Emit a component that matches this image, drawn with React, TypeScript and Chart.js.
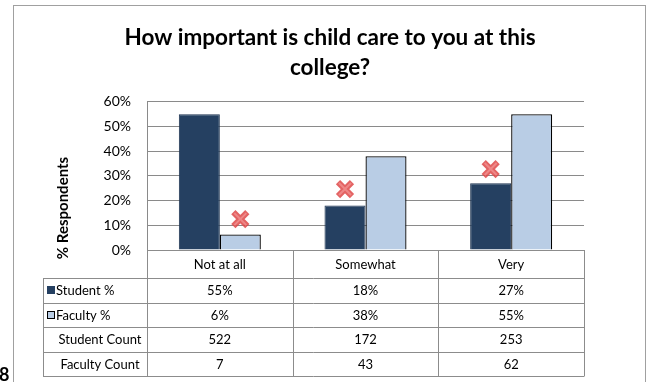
import React, { useEffect, useRef } from "react";
import { Chart, registerables } from "chart.js";
Chart.register(...registerables);

const FONT = "Lato, 'Open Sans', sans-serif";

const titleLines = ["How important is child care to you at this", "college?"];
const yAxisTitle = "% Respondents";
const categories = ["Not at all", "Somewhat", "Very"];
const seriesNames = ["Student %", "Faculty %"];
const studentPct = [55, 18, 27];
const facultyPct = [6.3, 38, 55];
const studentPctLabels = ["55%", "18%", "27%"];
const facultyPctLabels = ["6%", "38%", "55%"];
const countNames = ["Student Count", "Faculty Count"];
const studentCount = ["522", "172", "253"];
const facultyCount = ["7", "43", "62"];
const yTicks = [0, 10, 20, 30, 40, 50, 60];
const markerSeries = [1, 0, 0];
const markerValues = [12.5, 24.7, 32.8];
const sideGlyph = "8";

const DARK = "#254061";
const LIGHT = "#B9CDE5";
const GRID = "#8a8a8a";
const TABLE_LINE = "#8c8c8c";

const overlayPlugin = {
  id: "overlay",
  afterDatasetsDraw(chart: any) {
    const { ctx, scales } = chart;
    const y = scales.y;
    ctx.save();
    for (let i = 0; i < markerValues.length; i++) {
      const meta = chart.getDatasetMeta(markerSeries[i]);
      const el = meta.data[i];
      const cx = el.x;
      const cy = y.getPixelForValue(markerValues[i]);
      const r = 7;
      ctx.lineCap = "butt";
      ctx.strokeStyle = "rgba(222,72,72,0.85)";
      ctx.lineWidth = 6;
      ctx.beginPath();
      ctx.moveTo(cx - r, cy - r);
      ctx.lineTo(cx + r, cy + r);
      ctx.moveTo(cx + r, cy - r);
      ctx.lineTo(cx - r, cy + r);
      ctx.stroke();
      ctx.strokeStyle = "rgba(240,140,140,0.9)";
      ctx.lineWidth = 2;
      ctx.beginPath();
      ctx.moveTo(cx - r + 1, cy - r + 1);
      ctx.lineTo(cx + r - 1, cy + r - 1);
      ctx.moveTo(cx + r - 1, cy - r + 1);
      ctx.lineTo(cx - r + 1, cy + r - 1);
      ctx.stroke();
    }
    ctx.restore();
  },
  afterDraw(chart: any) {
    const { ctx, chartArea: ca, scales } = chart;
    const x = scales.x;
    ctx.save();
    // outer frame
    ctx.strokeStyle = "#a0a0a0";
    ctx.lineWidth = 1;
    ctx.strokeRect(13.5, 5.5, 632, 420);

    // y axis title
    ctx.save();
    ctx.translate(63, ca.bottom - 42);
    ctx.rotate(-Math.PI / 2);
    ctx.font = `bold 15px ${FONT}`;
    ctx.fillStyle = "#000";
    ctx.textAlign = "center";
    ctx.textBaseline = "middle";
    ctx.fillText(yAxisTitle, 0, 0);
    ctx.restore();

    // table
    const w = (ca.right - ca.left) / categories.length;
    const rows = [ca.bottom, ca.bottom + 28, ca.bottom + 52.5, ca.bottom + 77, ca.bottom + 101.5, ca.bottom + 126];
    const leftCol = 43;
    const crisp = (v: number) => Math.round(v) + 0.5;
    ctx.strokeStyle = TABLE_LINE;
    ctx.lineWidth = 1;
    ctx.beginPath();
    for (let i = 0; i <= categories.length; i++) {
      const xx = crisp(i === categories.length ? ca.right : x.getPixelForValue(i) - w / 2);
      ctx.moveTo(xx, rows[0]);
      ctx.lineTo(xx, rows[5]);
    }
    ctx.moveTo(crisp(leftCol), rows[1]);
    ctx.lineTo(crisp(leftCol), rows[5]);
    ctx.moveTo(ca.left, crisp(rows[0]));
    ctx.lineTo(ca.right, crisp(rows[0]));
    for (let r = 1; r < rows.length; r++) {
      ctx.moveTo(leftCol, crisp(rows[r]));
      ctx.lineTo(ca.right + 0.5, crisp(rows[r]));
    }
    ctx.stroke();

    ctx.fillStyle = "#000";
    ctx.font = `13px ${FONT}`;
    ctx.textBaseline = "middle";
    ctx.textAlign = "center";
    const rowMid = (r: number) => (rows[r] + rows[r + 1]) / 2 + 1;
    const dataRows = [categories, studentPctLabels, facultyPctLabels, studentCount, facultyCount];
    dataRows.forEach((arr, r) => {
      arr.forEach((txt, i) => {
        ctx.fillText(String(txt), x.getPixelForValue(i), rowMid(r));
      });
    });
    ctx.textAlign = "left";
    const legendColors = [DARK, LIGHT];
    seriesNames.forEach((name, s) => {
      const my = rowMid(s + 1);
      ctx.fillStyle = legendColors[s];
      ctx.fillRect(47, Math.round(my - 5), 8, 8);
      if (s === 1) {
        ctx.strokeStyle = "#000";
        ctx.strokeRect(47.5, Math.round(my - 5) + 0.5, 7, 7);
      }
      ctx.fillStyle = "#000";
      ctx.fillText(name, 56, my);
    });
    ctx.textAlign = "center";
    countNames.forEach((name, s) => {
      ctx.fillText(name, 100, rowMid(s + 3));
    });

    ctx.font = `bold 18px ${FONT}`;
    ctx.textAlign = "left";
    ctx.textBaseline = "alphabetic";
    ctx.fillText(sideGlyph, -1, 381);
    ctx.restore();
  },
};

export default function App() {
  const ref = useRef<HTMLCanvasElement>(null);
  useEffect(() => {
    document.body.style.margin = "0";
    const chart = new Chart(ref.current as HTMLCanvasElement, {
      type: "bar",
      data: {
        labels: categories,
        datasets: [
          {
            label: seriesNames[0],
            data: studentPct,
            backgroundColor: DARK,
            borderColor: "#1d3350",
            borderWidth: 1,
            categoryPercentage: 0.563,
            barPercentage: 1,
          },
          {
            label: seriesNames[1],
            data: facultyPct,
            backgroundColor: LIGHT,
            borderColor: "#000",
            borderWidth: 1.3,
            categoryPercentage: 0.563,
            barPercentage: 1,
          },
        ],
      },
      options: {
        animation: false,
        responsive: false,
        layout: { padding: { left: 76, right: 68, top: 0, bottom: 132 } },
        plugins: {
          legend: { display: false },
          tooltip: { enabled: false },
          title: {
            display: true,
            text: titleLines,
            color: "#000",
            font: { size: 22.5, weight: "bold", family: FONT, lineHeight: 1.33 },
            padding: { top: 23, bottom: 19 },
          },
        },
        scales: {
          x: { display: false },
          y: {
            min: 0,
            max: 60,
            afterFit: (s: any) => {
              s.width = 71;
            },
            afterBuildTicks: (s: any) => {
              s.ticks = yTicks.map((v) => ({ value: v }));
            },
            grid: { color: GRID, drawTicks: false, lineWidth: 1 },
            border: { display: true, color: GRID, width: 1 },
            ticks: {
              padding: 16,
              color: "#000",
              font: { size: 14, family: FONT },
              callback: (v: any) => `${v}%`,
            },
          },
        },
      },
      plugins: [overlayPlugin],
    });
    return () => chart.destroy();
  }, []);
  return (
    <div style={{ width: 652, height: 382, background: "#fff" }}>
      <canvas ref={ref} width={652} height={382} style={{ display: "block" }} />
    </div>
  );
}
